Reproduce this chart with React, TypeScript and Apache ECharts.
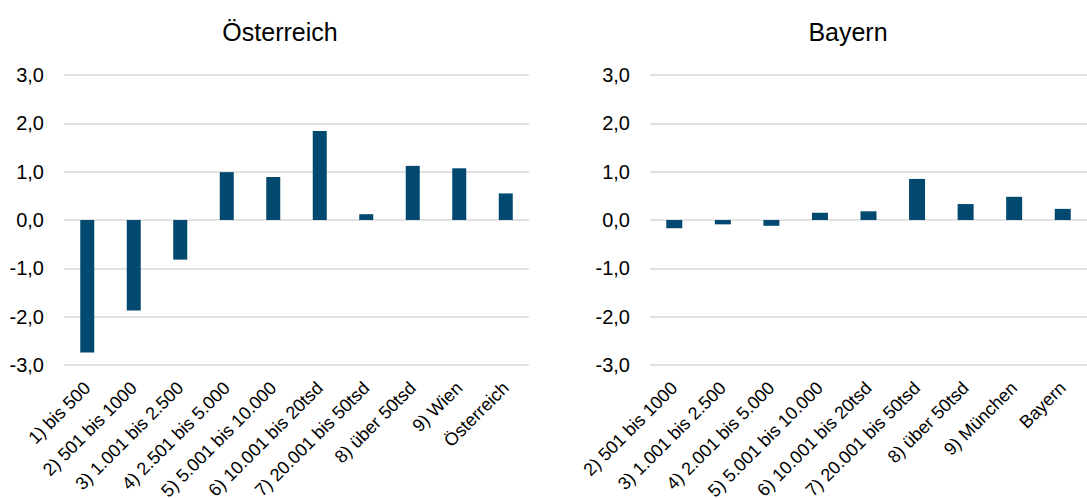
import React, { useEffect, useRef } from "react";
import * as echarts from "echarts";

const atCategories = ["1) bis 500", "2) 501 bis 1000", "3) 1.001 bis 2.500", "4) 2.501 bis 5.000", "5) 5.001 bis 10.000", "6) 10.001 bis 20tsd", "7) 20.001 bis 50tsd", "8) über 50tsd", "9) Wien", "Österreich"];
const atValues = [-2.74, -1.87, -0.82, 0.99, 0.89, 1.84, 0.12, 1.12, 1.07, 0.55];
const byCategories = ["2) 501 bis 1000", "3) 1.001 bis 2.500", "4) 2.001 bis 5.000", "5) 5.001 bis 10.000", "6) 10.001 bis 20tsd", "7) 20.001 bis 50tsd", "8) über 50tsd", "9) München", "Bayern"];
const byValues = [-0.17, -0.09, -0.12, 0.15, 0.18, 0.85, 0.33, 0.48, 0.23];
const titles = ["Österreich", "Bayern"];

const FONT = "'Liberation Sans', Arial, sans-serif";
const BAR = "#02496f";

export default function App() {
  const ref = useRef<HTMLDivElement>(null);
  useEffect(() => {
    document.body.style.margin = "0";
    const chart = echarts.init(ref.current!, null, { renderer: "svg" });
    const yAxisBase = (gridIndex: number) => ({
      type: "value",
      gridIndex,
      min: -3,
      max: 3,
      interval: 1,
      axisLine: { show: false },
      axisTick: { show: false },
      axisLabel: {
        color: "#000",
        fontSize: 20,
        fontFamily: FONT,
        margin: 20,
        formatter: (v: number) => v.toFixed(1).replace(".", ","),
      },
      splitLine: { lineStyle: { color: "#d9d9d9", width: 1.5 } },
    });
    const xAxisBase = (gridIndex: number, data: string[]) => ({
      type: "category",
      gridIndex,
      data,
      axisLine: { show: false },
      axisTick: { show: false },
      axisLabel: {
        color: "#000",
        fontSize: 18,
        fontFamily: FONT,
        rotate: 45,
        interval: 0,
        margin: 20,
      },
    });
    chart.setOption({
      animation: false,
      backgroundColor: "#fff",
      title: [
        { text: titles[0], left: 275, top: 14, textAlign: "center", textStyle: { fontSize: 25, fontWeight: "normal", color: "#000", fontFamily: FONT } },
        { text: titles[1], left: 843, top: 14, textAlign: "center", textStyle: { fontSize: 25, fontWeight: "normal", color: "#000", fontFamily: FONT } },
      ],
      grid: [
        { left: 64, right: 558, top: 75, bottom: 133, containLabel: false, outerBoundsMode: "none" },
        { left: 650, right: 0, top: 75, bottom: 133, containLabel: false, outerBoundsMode: "none" },
      ],
      xAxis: [xAxisBase(0, atCategories), xAxisBase(1, byCategories)],
      yAxis: [yAxisBase(0), yAxisBase(1)],
      series: [
        { type: "bar", xAxisIndex: 0, yAxisIndex: 0, data: atValues, barWidth: 14, itemStyle: { color: BAR } },
        { type: "bar", xAxisIndex: 1, yAxisIndex: 1, data: byValues, barWidth: 16, itemStyle: { color: BAR } },
      ],
    });
    return () => chart.dispose();
  }, []);
  return <div ref={ref} style={{ width: 1087, height: 498 }} />;
}
